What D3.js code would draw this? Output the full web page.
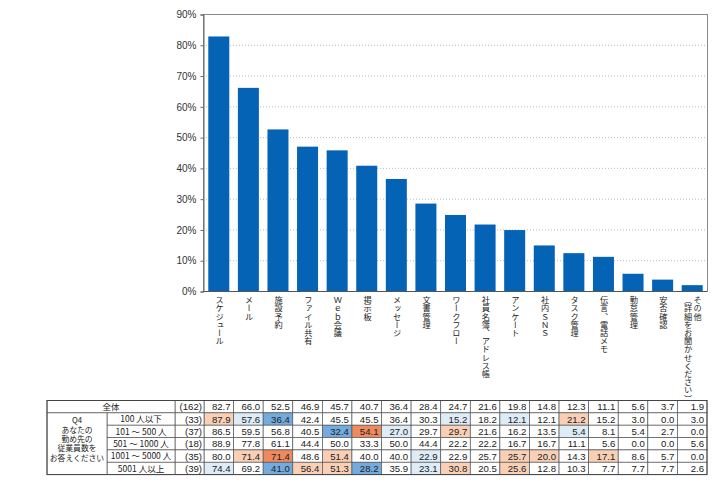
<!DOCTYPE html>
<html>
<head>
<meta charset="utf-8">
<script src="https://cdn.jsdelivr.net/npm/d3@7"></script>
<style>
	body { margin: 0; background: #fff; }
	#wrap { position: relative; width: 728px; height: 487px; overflow: hidden; }
	svg { position: absolute; left: 0; top: 0; }
	.xlabel {
		position: absolute;
		writing-mode: vertical-rl;
		font-family: "Noto Sans CJK JP", sans-serif;
		font-size: 8.2px;
		line-height: 9.5px;
		color: #222;
		white-space: pre;
		transform: translateX(-50%);
	}
	.qlabel {
		position: absolute;
		font-family: "Noto Sans CJK JP", sans-serif;
		font-size: 7.8px;
		line-height: 9.3px;
		color: #222;
		text-align: center;
		white-space: pre;
	}
</style>
</head>
<body>
<div id="wrap"></div>
<script>
// 機能ごとの利用率（全体）
var items = ["スケジュール", "メール", "施設予約", "ファイル共有", "Ｗｅｂ会議", "掲示板",
	"メッセージ", "文書管理", "ワークフロー", "社員名簿、アドレス帳", "アンケート", "社内ＳＮＳ",
	"タスク管理", "伝言、電話メモ", "勤怠管理", "安否確認", "その他\n（詳細をお聞かせください）"];
var overall = [82.7, 66.0, 52.5, 46.9, 45.7, 40.7, 36.4, 28.4, 24.7, 21.6, 19.8, 14.8, 12.3, 11.1, 5.6, 3.7, 1.9];
var totalN = 162;
var yTicks = [0, 10, 20, 30, 40, 50, 60, 70, 80, 90];

// 従業員数別
var groups = ["100 人以下", "101 ～ 500 人", "501 ～ 1000 人", "1001 ～ 5000 人", "5001 人以上"];
var groupN = [33, 37, 18, 35, 39];
var groupValues = [
	[87.9, 57.6, 36.4, 42.4, 45.5, 45.5, 36.4, 30.3, 15.2, 18.2, 12.1, 12.1, 21.2, 15.2, 3.0, 0.0, 3.0],
	[86.5, 59.5, 56.8, 40.5, 32.4, 54.1, 27.0, 29.7, 29.7, 21.6, 16.2, 13.5, 5.4, 8.1, 5.4, 2.7, 0.0],
	[88.9, 77.8, 61.1, 44.4, 50.0, 33.3, 50.0, 44.4, 22.2, 22.2, 16.7, 16.7, 11.1, 5.6, 0.0, 0.0, 5.6],
	[80.0, 71.4, 71.4, 48.6, 51.4, 40.0, 40.0, 22.9, 22.9, 25.7, 25.7, 20.0, 14.3, 17.1, 8.6, 5.7, 0.0],
	[74.4, 69.2, 41.0, 56.4, 51.3, 28.2, 35.9, 23.1, 30.8, 20.5, 25.6, 12.8, 10.3, 7.7, 7.7, 7.7, 2.6]
];
// 網掛け: -2 濃い青, -1 薄い青, 0 なし, 1 薄い橙, 2 濃い橙
var groupShade = [
	[1, -1, -2, 0, 0, 0, 0, 0, -1, 0, -1, 0, 1, 0, 0, 0, 0],
	[0, 0, 0, 0, -2, 2, -1, 0, 1, 0, 0, 0, -1, 0, 0, 0, 0],
	[0, 0, 0, 0, 0, 0, 0, 0, 0, 0, 0, 0, 0, 0, 0, 0, 0],
	[0, 1, 2, 0, 1, 0, 0, -1, 0, 0, 1, 1, 0, 1, 0, 0, 0],
	[-1, 0, -2, 1, 1, -2, 0, -1, 1, 0, 1, 0, 0, 0, 0, 0, 0]
];
var qText = "Q4\nあなたの\n勤め先の\n従業員数を\nお答えください";

var shadeColor = { "-2": "#74abdf", "-1": "#deecf8", "0": "#ffffff", "1": "#f9d0b6", "2": "#ef8a5f" };
var font = "'Noto Sans CJK JP', sans-serif";
var numFont = "'Liberation Sans', Arial, sans-serif";

var W = 728, H = 487;
var plotL = 203, plotR = 707, plotT = 14, plotB = 291;

var wrap = d3.select("#wrap");
var svg = wrap.append("svg").attr("width", W).attr("height", H);
svg.append("rect").attr("width", W).attr("height", H).attr("fill", "#fff");

var col = d3.scaleBand().domain(d3.range(items.length)).range([plotL + 1, plotR]);
var x = d3.scaleBand().domain(d3.range(items.length)).range([plotL + 1, plotR])
	.paddingInner(0.29).paddingOuter(0.145);
var y = d3.scaleLinear().domain([0, 90]).range([plotB, plotT]);

// grid
svg.append("g").selectAll("line")
	.data(yTicks.filter(function(d) { return d > 0 && d < 90; }))
	.enter().append("line")
	.attr("x1", plotL).attr("x2", plotR)
	.attr("y1", function(d) { return y(d) + 0.5; })
	.attr("y2", function(d) { return y(d) + 0.5; })
	.attr("stroke", "#aaa")
	.attr("stroke-width", 0.8)
	.attr("stroke-dasharray", "1,2");

// frame
svg.append("rect")
	.attr("x", plotL + 0.5).attr("y", plotT + 0.5)
	.attr("width", plotR - plotL).attr("height", plotB - plotT)
	.attr("fill", "none").attr("stroke", "#888").attr("stroke-width", 1);

// bars
svg.append("g").selectAll("rect")
	.data(overall)
	.enter().append("rect")
	.attr("x", function(d, i) { return x(i); })
	.attr("width", x.bandwidth())
	.attr("y", function(d) { return y(d); })
	.attr("height", function(d) { return plotB - y(d); })
	.attr("fill", "#0563b6");

// y axis
var yAxis = d3.axisLeft(y).tickValues(yTicks).tickSize(3)
	.tickFormat(function(d) { return d + "%"; });
var ya = svg.append("g").attr("transform", "translate(" + (plotL + 0.5) + ",0.5)").call(yAxis);
ya.select(".domain").attr("stroke", "#666");
ya.selectAll(".tick line").attr("stroke", "#666");
ya.selectAll("text").attr("font-family", numFont).attr("font-size", "10px")
	.attr("fill", "#333").attr("dx", "-1");

// x axis line
svg.append("line").attr("x1", plotL).attr("x2", plotR)
	.attr("y1", plotB + 0.5).attr("y2", plotB + 0.5)
	.attr("stroke", "#555").attr("stroke-width", 1);

// x labels (vertical)
wrap.selectAll("div.xlabel")
	.data(items)
	.enter().append("div")
	.attr("class", "xlabel")
	.style("left", function(d, i) { return (x(i) + x.bandwidth() / 2) + "px"; })
	.style("top", "296px")
	.text(function(d) { return d; });

// table
var tLeft = 47, cQ = 107, cG = 175, cN = plotL + 1;
var tTop = 400.5, rowH = 12.35;
var tbl = svg.append("g");
var rows = [{ label: "全体", n: totalN, vals: overall, shade: overall.map(function() { return 0; }) }];
groups.forEach(function(g, i) {
	rows.push({ label: g, n: groupN[i], vals: groupValues[i], shade: groupShade[i] });
});

rows.forEach(function(r, ri) {
	var ry = tTop + ri * rowH;
	tbl.selectAll("rect.c" + ri)
		.data(r.vals)
		.enter().append("rect")
		.attr("x", function(d, i) { return col(i); })
		.attr("y", ry)
		.attr("width", col.bandwidth())
		.attr("height", rowH)
		.attr("fill", function(d, i) { return shadeColor[r.shade[i]]; })
		.attr("stroke", "#555")
		.attr("stroke-width", 0.7);
	tbl.selectAll("text.v" + ri)
		.data(r.vals)
		.enter().append("text")
		.attr("x", function(d, i) { return col(i) + col.bandwidth() - 3; })
		.attr("y", ry + rowH / 2 + 3.5)
		.attr("text-anchor", "end")
		.attr("font-family", numFont).attr("font-size", "9.6px").attr("fill", "#222")
		.text(function(d) { return d.toFixed(1); });
	// n
	tbl.append("rect").attr("x", cG).attr("y", ry).attr("width", cN - cG).attr("height", rowH)
		.attr("fill", "#fff").attr("stroke", "#555").attr("stroke-width", 0.7);
	tbl.append("text").attr("x", cN - 2).attr("y", ry + rowH / 2 + 3.5)
		.attr("text-anchor", "end")
		.attr("font-family", numFont).attr("font-size", "9.6px").attr("fill", "#222")
		.text("(" + r.n + ")");
	// label
	var lx = ri === 0 ? tLeft : cQ;
	tbl.append("rect").attr("x", lx).attr("y", ry).attr("width", cG - lx).attr("height", rowH)
		.attr("fill", "#fff").attr("stroke", "#555").attr("stroke-width", 0.7);
	tbl.append("text").attr("x", (lx + cG) / 2).attr("y", ry + rowH / 2 + 3.2)
		.attr("text-anchor", "middle")
		.attr("font-family", font).attr("font-size", "8.5px").attr("fill", "#222")
		.text(r.label);
});

// Q4 block
tbl.append("rect").attr("x", tLeft).attr("y", tTop + rowH).attr("width", cQ - tLeft)
	.attr("height", rowH * groups.length)
	.attr("fill", "#fff").attr("stroke", "#555").attr("stroke-width", 0.7);
wrap.append("div")
	.attr("class", "qlabel")
	.style("left", tLeft + "px")
	.style("width", (cQ - tLeft) + "px")
	.style("top", (tTop + rowH + 2.5) + "px")
	.text(qText);

// outer border
tbl.append("rect").attr("x", tLeft).attr("y", tTop)
	.attr("width", plotR - tLeft).attr("height", rowH * rows.length)
	.attr("fill", "none").attr("stroke", "#444").attr("stroke-width", 1);
</script>
</body>
</html>
